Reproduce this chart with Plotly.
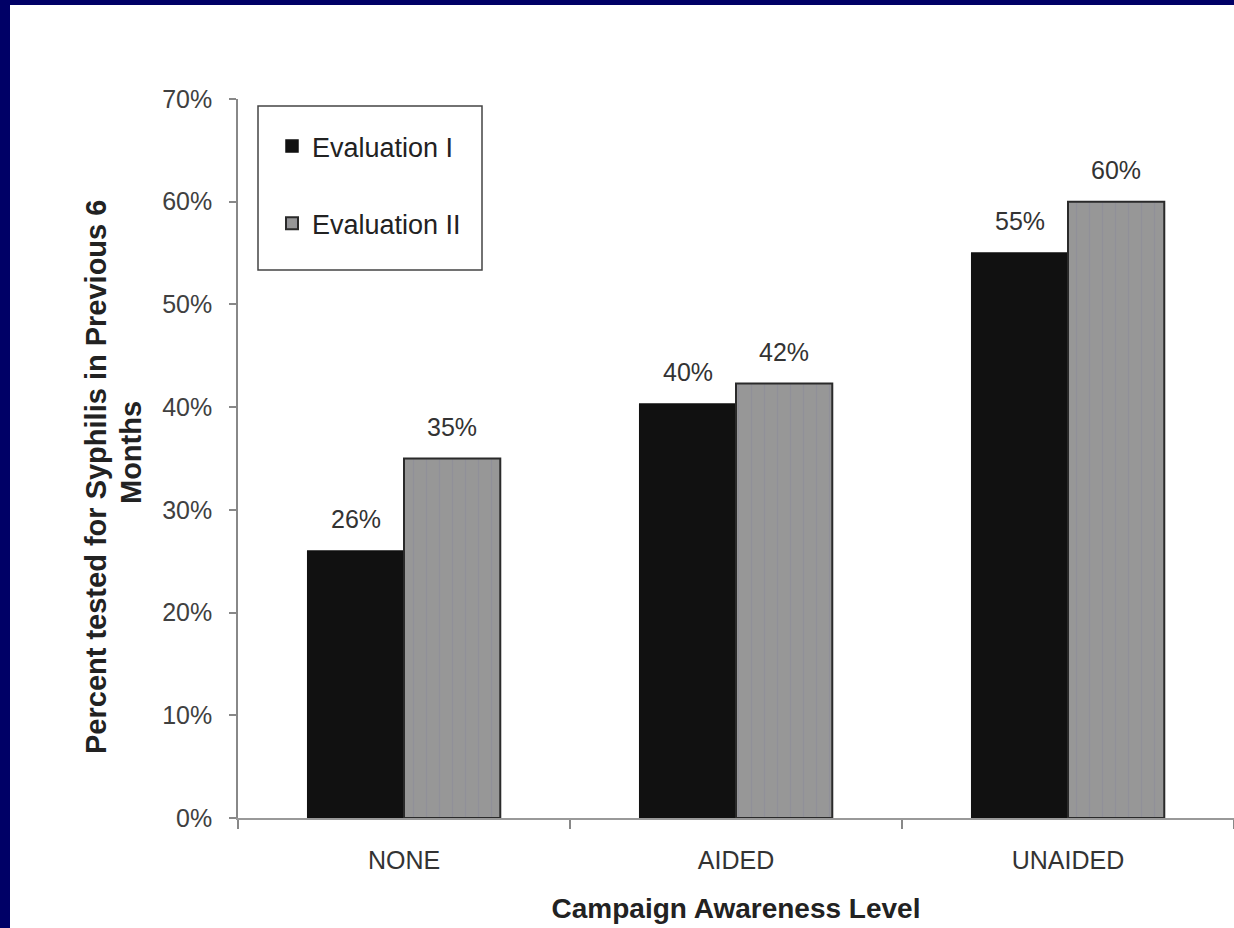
import plotly.graph_objects as go

categories = ["NONE", "AIDED", "UNAIDED"]
eval1 = [26.0, 40.3, 55.0]
eval2 = [35.0, 42.3, 60.0]
series_names = ["Evaluation I", "Evaluation II"]
y_ticks = [0, 10, 20, 30, 40, 50, 60, 70]
y_tick_labels = [f"{v}%" for v in y_ticks]

W, H = 1234, 928
L, R, T, B = 238, 0, 99, 110
pw, ph = W - L - R, H - T - B

def px_x(x):
    return (x - L) / pw

def px_y(y):
    return (H - B - y) / ph

FONT = "Liberation Sans, Arial, sans-serif"
NAVY = "#000066"

fig = go.Figure()
fig.add_trace(go.Bar(
    x=categories, y=eval1, name=series_names[0],
    marker=dict(color="#111111", line=dict(color="#111111", width=1.5)),
    legendgroup="a",
))
fig.add_trace(go.Bar(
    x=categories, y=eval2, name=series_names[1],
    marker=dict(color="#959595", line=dict(color="#2a2a2a", width=2),
                pattern=dict(shape="|", fgcolor="#8a8a9a", bgcolor="#979797",
                             size=13, solidity=0.12)),
    legendgroup="b",
))

annotations = []
for vals, shift in ((eval1, -48), (eval2, 48)):
    for c, v in zip(categories, vals):
        annotations.append(dict(
            x=c, y=v, xref="x", yref="y", text=f"{round(v):.0f}%",
            showarrow=False, xshift=shift, yshift=32, yanchor="middle",
            font=dict(family=FONT, size=25, color="#333333"),
        ))

# y-axis title (two lines, as in the original)
annotations.append(dict(
    x=px_x(96), y=px_y(477), xref="paper", yref="paper",
    text="<b>Percent tested for Syphilis in Previous 6</b>", textangle=-90,
    showarrow=False, xanchor="center", yanchor="middle",
    font=dict(family=FONT, size=29, color="#222222"),
))
annotations.append(dict(
    x=px_x(131), y=px_y(453), xref="paper", yref="paper",
    text="<b>Months</b>", textangle=-90,
    showarrow=False, xanchor="center", yanchor="middle",
    font=dict(family=FONT, size=29, color="#222222"),
))

shapes = [
    # white page area inside the navy frame
    dict(type="rect", xref="paper", yref="paper", layer="below",
         x0=px_x(10), x1=px_x(W + 5), y0=px_y(H + 5), y1=px_y(5),
         fillcolor="white", line=dict(width=0)),
    # legend box
    dict(type="rect", xref="paper", yref="paper", layer="above",
         x0=px_x(258), x1=px_x(482), y0=px_y(270), y1=px_y(106),
         fillcolor="rgba(0,0,0,0)", line=dict(color="#444444", width=1.5)),
]

fig.update_layout(
    width=W, height=H,
    margin=dict(l=L, r=R, t=T, b=B, pad=0),
    paper_bgcolor=NAVY, plot_bgcolor="rgba(0,0,0,0)",
    barmode="group", bargap=0.42, bargroupgap=0,
    font=dict(family=FONT, color="#333333"),
    showlegend=True,
    legend=dict(x=px_x(272), y=px_y(122), xanchor="left", yanchor="top",
                bgcolor="rgba(0,0,0,0)", borderwidth=0,
                font=dict(family=FONT, size=27, color="#222222"),
                tracegroupgap=39, itemwidth=30),
    annotations=annotations, shapes=shapes,
    xaxis=dict(
        type="category", range=[-0.5, 2.5],
        showline=True, linecolor="#999999", linewidth=2,
        ticks="outside", tickson="boundaries", ticklen=9, tickcolor="#888888",
        tickwidth=1.5, showgrid=False, zeroline=False,
        tickfont=dict(family=FONT, size=25, color="#333333"),
        ticklabelstandoff=19,
        title=dict(text="<b>Campaign Awareness Level</b>", standoff=25,
                   font=dict(family=FONT, size=28, color="#222222")),
    ),
    yaxis=dict(
        range=[0, 70], tickvals=y_ticks, ticktext=y_tick_labels,
        showline=True, linecolor="#888888", linewidth=1.5,
        ticks="outside", ticklen=7, tickcolor="#888888", tickwidth=1.5,
        showgrid=False, zeroline=False,
        tickfont=dict(family=FONT, size=25, color="#404040"),
        ticklabelstandoff=12,
    ),
)

fig.write_html("out.html")
